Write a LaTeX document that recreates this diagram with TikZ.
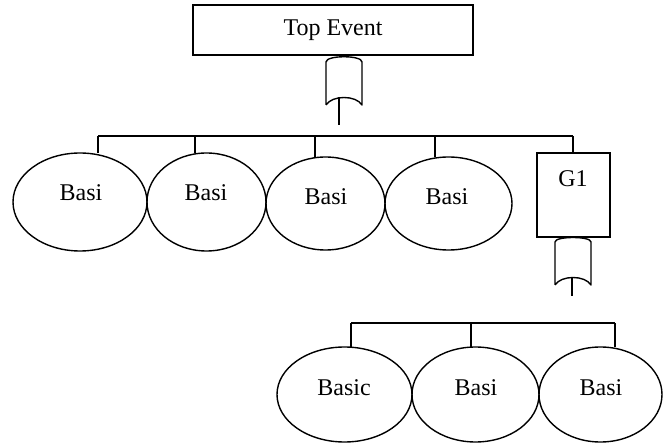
\documentclass[tikz,border=0pt]{standalone}
\usepackage{fontspec}
\setmainfont{Liberation Serif}
\usetikzlibrary{shapes.geometric}
\begin{document}
\begin{tikzpicture}[x=1pt,y=-1pt,
  line width=1.4pt,
  txt/.style={inner sep=0pt,font=\fontsize{24}{28}\selectfont},
  bev/.style={draw,ellipse,inner sep=0pt,outer sep=0pt},
  gbox/.style={draw,rectangle,inner sep=0pt,outer sep=0pt},
  orpath/.style={draw,line join=round}]
\useasboundingbox (0,0) rectangle (669,443);
% Top event
\node[gbox,minimum width=280,minimum height=50] (top) at (333,30) {};
\node[txt] (toptxt) at (333,30) {Top Event};
% Top OR gate
\path[orpath] (326,105) -- (326,62) .. controls (326,55) and (362,55) .. (362,62) -- (362,105)
  .. controls (356,95) and (332,95) .. (326,105);
\coordinate (g0in) at (339,97);
\coordinate (g0out) at (339,125);
\draw (g0in) -- (g0out);
% First bar
\coordinate (b1l) at (98,136);
\coordinate (b1r) at (573,136);
\draw (b1l) -- (b1r);
% Row 1 events
\node[bev,minimum width=134,minimum height=98] (e1) at (80,202) {};
\node[bev,minimum width=119,minimum height=98] (e2) at (206.5,202) {};
\node[bev,minimum width=119,minimum height=93] (e3) at (325.5,203.5) {};
\node[bev,minimum width=127,minimum height=93] (e4) at (448.5,203.5) {};
\node[txt] (t1) at (81,193) {Basi};
\node[txt] (t2) at (206,193) {Basi};
\node[txt] (t3) at (326,197) {Basi};
\node[txt] (t4) at (447,197) {Basi};
\coordinate (d1) at (98,136);
\coordinate (d2) at (195,136);
\coordinate (d3) at (315,136);
\coordinate (d4) at (435,136);
\draw (d1) -- (d1 |- e1.north);
\draw (d2) -- (d2 |- e2.north);
\draw (d3) -- (d3 |- e3.north);
\draw (d4) -- (d4 |- e4.north);
% G1
\node[gbox,minimum width=73,minimum height=84] (g1) at (573.5,195) {};
\node[txt] (g1txt) at (573,179) {G1};
\draw (b1r) -- (g1.north -| b1r);
% Lower OR gate
\path[orpath] (555,285) -- (555,242) .. controls (555,236) and (591,236) .. (591,242) -- (591,285)
  .. controls (585,275) and (561,275) .. (555,285);
\coordinate (g1in) at (572,277);
\coordinate (g1out) at (572,296);
\draw (g1in) -- (g1out);
% Second bar
\coordinate (b2l) at (351,323);
\coordinate (b2m) at (471,323);
\coordinate (b2r) at (615,323);
\draw (b2l) -- (b2r);
% Row 2 events
\node[bev,minimum width=135,minimum height=95] (e5) at (344.5,394.5) {};
\node[bev,minimum width=127,minimum height=95] (e6) at (475.5,394.5) {};
\node[bev,minimum width=123,minimum height=95] (e7) at (600.5,394.5) {};
\node[txt] (t5) at (344,388) {Basic};
\node[txt] (t6) at (476,388) {Basi};
\node[txt] (t7) at (601,388) {Basi};
\draw (b2l) -- (b2l |- e5.north);
\draw (b2m) -- (b2m |- e6.north);
\draw (b2r) -- (b2r |- e7.north);
\end{tikzpicture}
\end{document}
